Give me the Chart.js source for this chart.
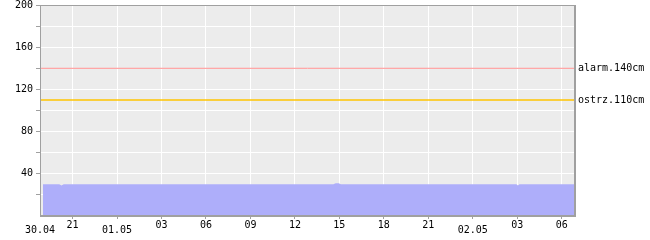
<!DOCTYPE html>
<html><head><meta charset="utf-8">
<script src="https://cdn.jsdelivr.net/npm/chart.js@4/dist/chart.umd.min.js"></script>
<style>html,body{margin:0;padding:0;background:#fff}#wrap{width:650px;height:240px}</style>
</head><body><div id="wrap"><canvas id="c" width="650" height="240"></canvas></div>
<script>
// hours relative to 01.05 00:00
const timeHours  = [-5.0, -4.0, -3.9, -3.75, -3.6, -2.0, 0.0, 3.0, 6.0, 9.0, 12.0, 14.6, 14.75, 14.95, 15.1, 18.0, 21.0, 24.0, 26.95, 27.05, 27.15, 30.0, 30.9];
const waterLevel = [30,   30,   30,   29,    30,   30,   30,  30,  30,  30,  30,   30,   31,    31,    30,   30,   30,   30,   30,    29,    30,    30,   30];
const xTickValues = [-5.2, -3, 0, 3, 6, 9, 12, 15, 18, 21, 24, 27, 30];
const xTickLabels = ['30.04', '21', '01.05', '03', '06', '09', '12', '15', '18', '21', '02.05', '03', '06'];
const yTickValues = [20, 40, 60, 80, 100, 120, 140, 160, 180, 200];
const yTickLabels = [40, 80, 120, 160, 200];
const thresholdValues = [140, 110];
const thresholdLabels = ['alarm.140cm', 'ostrz.110cm'];
const xMin = -5.2, xMax = 30.9;

const FONT = 'DejaVu Sans Mono';
const GRAY = '#a0a0a0';
const isDay = i => String(xTickLabels[i] || '').includes('.');

const frame = {
  id: 'frame',
  beforeDraw(chart) {
    const a = chart.chartArea, ctx = chart.ctx;
    ctx.save(); ctx.fillStyle = '#ececec';
    ctx.fillRect(a.left, a.top, a.right - a.left, a.bottom - a.top);
    ctx.restore();
  },
  afterDatasetsDraw(chart) {
    const a = chart.chartArea, ctx = chart.ctx;
    ctx.save(); ctx.strokeStyle = GRAY; ctx.lineWidth = 1;
    ctx.strokeRect(Math.round(a.left) + 0.5, Math.round(a.top) + 0.5,
                   Math.round(a.right - a.left) - 1, Math.round(a.bottom - a.top) - 1);
    ctx.restore();
  }
};

const colors = ['#ff9090', '#ffc400'];
const widths = [1, 1.5];
const vFit = w => s => { s.width = w; s.paddingTop = 5; s.paddingBottom = 0; };

new Chart(document.getElementById('c'), {
  type: 'scatter',
  data: {
    datasets: [
      {
        data: timeHours.map((t, i) => ({x: t, y: waterLevel[i]})),
        showLine: true, borderWidth: 0, borderColor: 'rgba(0,0,0,0)',
        backgroundColor: '#aeaefa', fill: 'origin', pointRadius: 0, tension: 0
      },
      ...thresholdValues.map((v, k) => ({
        data: [{x: xMin, y: v}, {x: xMax, y: v}],
        showLine: true, borderWidth: widths[k], borderColor: colors[k],
        pointRadius: 0, fill: false, yAxisID: 'y'
      }))
    ]
  },
  options: {
    responsive: false, animation: false,
    layout: {padding: {top: 0, left: 0, right: 0, bottom: 0}},
    plugins: {legend: {display: false}, tooltip: {enabled: false}},
    scales: {
      x: {
        type: 'linear', min: xMin, max: xMax,
        afterBuildTicks: s => { s.ticks = xTickValues.map(v => ({value: v})); },
        afterFit: s => { s.height = 24; s.paddingLeft = 0; s.paddingRight = 0; },
        grid: {color: ctx => ctx.index === 0 ? 'rgba(0,0,0,0)' : '#ffffff', lineWidth: 1,
               tickLength: 3, tickColor: ctx => ctx.index === 0 ? 'rgba(0,0,0,0)' : GRAY},
        border: {display: true, color: GRAY},
        ticks: {
          autoSkip: false, maxRotation: 0, padding: 1, color: '#000',
          font: ctx => isDay(ctx.index) ? {family: FONT, size: 10, lineHeight: 0.667} : {family: FONT, size: 10, lineHeight: 1},
          callback: (v, i) => isDay(i) ? ['', xTickLabels[i]] : xTickLabels[i]
        }
      },
      y: {
        min: 0, max: 200,
        afterBuildTicks: s => { s.ticks = yTickValues.map(v => ({value: v})); },
        afterFit: vFit(40),
        grid: {color: '#ffffff', tickLength: 4, tickColor: GRAY},
        border: {display: true, color: GRAY},
        ticks: {padding: 3, color: '#000', font: {family: FONT, size: 10},
                callback: v => yTickLabels.includes(v) ? String(v) : ''}
      },
      y2: {
        position: 'right', min: 0, max: 200,
        afterBuildTicks: s => { s.ticks = thresholdValues.map(v => ({value: v})); },
        afterFit: vFit(75),
        grid: {display: false, drawTicks: false, tickLength: 0},
        border: {display: true, color: GRAY},
        ticks: {padding: 3, color: '#000', font: {family: FONT, size: 10},
                callback: (v, i) => thresholdLabels[i]}
      }
    }
  },
  plugins: [frame]
});
</script></body></html>
